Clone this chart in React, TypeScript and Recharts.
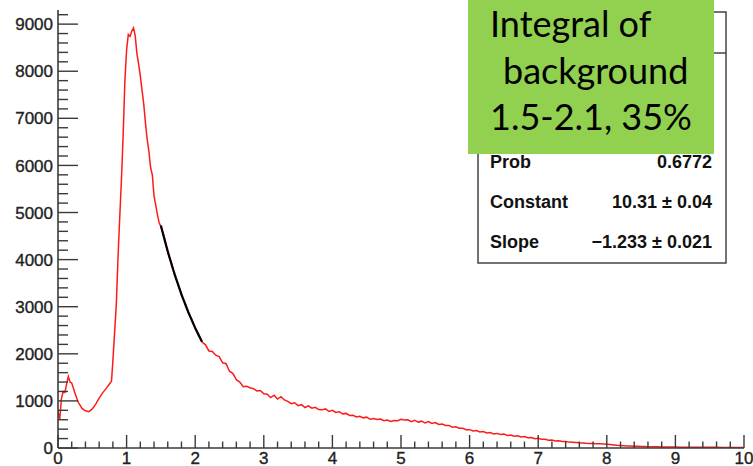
import React from "react";
import { LineChart, Line, XAxis, YAxis } from "recharts";

// Histogram bin centres and contents
const binCenters = [
  0.0, 0.025, 0.05, 0.075, 0.1, 0.125, 0.15, 0.175, 0.2, 0.225, 0.25, 0.275, 0.3, 0.35, 0.4, 0.45,
  0.5, 0.55, 0.6, 0.65, 0.7, 0.75, 0.78, 0.8, 0.825, 0.85, 0.875, 0.9, 0.925, 0.95, 0.975,
  1.0, 1.025, 1.05, 1.075, 1.1, 1.125, 1.15, 1.175, 1.2, 1.225, 1.25, 1.275, 1.3, 1.325, 1.35,
  1.375, 1.4, 1.425, 1.45, 1.475, 1.5, 1.55, 1.6, 1.65, 1.7, 1.75, 1.8, 1.85, 1.9, 1.95, 2.0,
  2.05, 2.1, 2.15, 2.2, 2.25, 2.3, 2.35, 2.4, 2.45, 2.5, 2.55, 2.6, 2.65, 2.7, 2.75, 2.8, 2.85,
  2.9, 2.95, 3.0, 3.05, 3.1, 3.15, 3.2, 3.25, 3.3, 3.35, 3.4, 3.45, 3.5, 3.55, 3.6, 3.65, 3.7,
  3.75, 3.8, 3.85, 3.9, 3.95, 4.0, 4.05, 4.1, 4.15, 4.2, 4.25, 4.3, 4.35, 4.4, 4.45, 4.5, 4.55,
  4.6, 4.65, 4.7, 4.75, 4.8, 4.85, 4.9, 4.95, 5.0, 5.05, 5.1, 5.15, 5.2, 5.25, 5.3, 5.35, 5.4,
  5.45, 5.5, 5.55, 5.6, 5.65, 5.7, 5.75, 5.8, 5.85, 5.9, 5.95, 6.0, 6.05, 6.1, 6.15, 6.2, 6.25,
  6.3, 6.35, 6.4, 6.45, 6.5, 6.55, 6.6, 6.65, 6.7, 6.75, 6.8, 6.85, 6.9, 6.95, 7.0, 7.05, 7.1,
  7.15, 7.2, 7.25, 7.3, 7.35, 7.4, 7.45, 7.5, 7.55, 7.6, 7.65, 7.7, 7.75, 7.8, 7.85, 7.9, 7.95,
  8.0, 8.05, 8.1, 8.15, 8.2, 8.25, 8.3, 8.35, 8.4, 8.45, 8.5, 8.55, 8.6, 8.65, 8.7, 8.75, 8.8,
  8.85, 8.9, 8.95, 9.0, 9.1, 9.2, 9.3, 9.4, 9.5, 9.6, 9.7, 9.8, 9.9, 10.0,
];

const counts = [
  780, 600, 1050, 1200, 1180, 1350, 1520, 1400, 1380, 1270, 1150, 1050, 960, 840, 790, 770,
  830, 930, 1060, 1170, 1260, 1360, 1420, 1850, 2450, 3050, 4050, 4900, 5700, 6650, 7800,
  8450, 8780, 8740, 8850, 8920, 8760, 8380, 8150, 7900, 7600, 7300, 6900, 6550, 6300, 5950,
  5800, 5350, 5150, 4950, 4780, 4700, 4480, 4150, 3950, 3660, 3500, 3240, 3090, 2860, 2740, 2530,
  2420, 2250, 2190, 2060, 2050, 1970, 1940, 1810, 1790, 1630, 1580, 1450, 1400, 1300, 1310, 1280, 1260,
  1210, 1220, 1150, 1140, 1070, 1120, 1040, 1090, 1020, 990, 940, 960, 900, 920, 860, 895, 845,
  865, 815, 810, 830, 775, 800, 755, 770, 725, 735, 690, 695, 660, 675, 640, 655, 610,
  625, 605, 615, 580, 595, 565, 585, 580, 610, 595, 600, 560, 590, 550, 570, 530, 560,
  520, 540, 500, 510, 480, 480, 440, 450, 420, 420, 390, 390, 360, 370, 340, 350, 320,
  330, 300, 310, 285, 295, 265, 275, 250, 258, 232, 242, 218, 222, 198, 205, 188, 186,
  165, 170, 150, 156, 140, 140, 125, 124, 118, 112, 108, 100, 98, 95, 90, 88, 85,
  80, 72, 65, 58, 55, 50, 45, 42, 38, 35, 32, 30, 28, 26, 25, 24, 22,
  22, 20, 20, 19, 18, 17, 16, 15, 15, 14, 13, 13, 12, 12,
];

// Exponential fit: exp(Constant + Slope * x) over the fit range
const fitConstant = 10.31;
const fitSlope = -1.233;
const fitRange = [1.5, 2.1];

// Statistics box
const statNames = ["Prob", "Constant", "Slope"];
const statValues = ["0.6772", "10.31 \u00b1 0.04", "\u22121.233 \u00b1 0.021"];

// Annotation
const noteLines = ["Integral of", "background", "1.5-2.1, 35%"];
const noteIndent = [490, 503, 490];

// Axis ticks
const xMajorTicks = [0, 1, 2, 3, 4, 5, 6, 7, 8, 9, 10];
const yMajorTicks = [0, 1000, 2000, 3000, 4000, 5000, 6000, 7000, 8000, 9000];
const xMinorStep = 0.2;
const yMinorStep = 200;
const yMax = 9300;

const xTicks: number[] = [];
for (let i = 0; i <= 50; i++) xTicks.push(Math.round(i * xMinorStep * 10) / 10);
const yTicks: number[] = [];
for (let v = 0; v <= 9200; v += yMinorStep) yTicks.push(v);

const histData = binCenters.map((x, i) => ({ x, y: counts[i] }));
const fitData: { x: number; y: number }[] = [];
for (let i = 0; i <= 30; i++) {
  const x = fitRange[0] + ((fitRange[1] - fitRange[0]) * i) / 30;
  fitData.push({ x, y: Math.exp(fitConstant + fitSlope * x) });
}

const AXIS = "#3a3a3a";
const FONT = "'Liberation Sans', Arial, Helvetica, sans-serif";

const XTick = (props: any) => {
  const { x, y, payload } = props;
  const v = payload.value as number;
  const major = xMajorTicks.some((m) => Math.abs(m - v) < 1e-6);
  return (
    <g>
      <line x1={x} x2={x} y1={y} y2={y - (major ? 13 : 6.5)} stroke={AXIS} strokeWidth={1.4} />
      {major && (
        <text
          x={x}
          y={y + 16}
          textAnchor="middle"
          fontSize={17}
          fontFamily={FONT}
          fill="#222"
          stroke="#222"
          strokeWidth={0.35}
        >
          {v}
        </text>
      )}
    </g>
  );
};

const YTick = (props: any) => {
  const { x, y, payload } = props;
  const v = payload.value as number;
  const major = yMajorTicks.includes(v);
  return (
    <g>
      <line x1={x} x2={x + (major ? 20 : 10)} y1={y} y2={y} stroke={AXIS} strokeWidth={1.4} />
      {major && (
        <text
          x={x - 5}
          y={y}
          dy="0.36em"
          textAnchor="end"
          fontSize={17}
          fontFamily={FONT}
          fill="#222"
          stroke="#222"
          strokeWidth={0.35}
        >
          {v}
        </text>
      )}
    </g>
  );
};

export default function App() {
  return (
    <div style={{ position: "absolute", left: 0, top: 0, width: 753, height: 466, background: "#fff" }}>
      <LineChart width={753} height={466} margin={{ top: 10, right: 9, bottom: 0, left: 0 }}>
        <XAxis
          dataKey="x"
          type="number"
          domain={[0, 10]}
          ticks={xTicks}
          interval={0}
          height={18}
          tickSize={0}
          tickMargin={0}
          tickLine={false}
          tick={<XTick />}
          axisLine={{ stroke: AXIS, strokeWidth: 1.6 }}
          allowDataOverflow
        />
        <XAxis
          xAxisId="top"
          orientation="top"
          type="number"
          domain={[0, 10]}
          height={0}
          tick={false}
          tickLine={false}
          axisLine={{ stroke: AXIS, strokeWidth: 1.6 }}
        />
        <YAxis
          type="number"
          domain={[0, yMax]}
          ticks={yTicks}
          interval={0}
          width={58}
          tickSize={0}
          tickMargin={0}
          tickLine={false}
          tick={<YTick />}
          axisLine={{ stroke: AXIS, strokeWidth: 1.6 }}
          allowDataOverflow
        />
        <YAxis
          yAxisId="right"
          orientation="right"
          type="number"
          domain={[0, yMax]}
          width={0}
          tick={false}
          tickLine={false}
          axisLine={{ stroke: AXIS, strokeWidth: 1.6 }}
        />
        <Line
          data={histData}
          dataKey="y"
          type="linear"
          stroke="#ff1a1a"
          strokeWidth={1.5}
          dot={false}
          isAnimationActive={false}
        />
        <Line
          data={fitData}
          dataKey="y"
          type="monotone"
          stroke="#000"
          strokeWidth={2.2}
          dot={false}
          isAnimationActive={false}
        />
      </LineChart>

      <svg width={753} height={466} style={{ position: "absolute", left: 0, top: 0, pointerEvents: "none" }}>
        {/* fit statistics box */}
        <rect x={478} y={12} width={248} height={251} fill="#fff" stroke="#444" strokeWidth={1.5} />
        <line x1={478} x2={726} y1={53} y2={53} stroke="#444" strokeWidth={1.5} />
        {statNames.map((name, i) => (
          <g key={name}>
            <text x={490} y={168 + i * 40} fontSize={18} fontWeight="bold" fontFamily={FONT} fill="#111">
              {name}
            </text>
            <text x={712} y={168 + i * 40} textAnchor="end" fontSize={18} fontWeight="bold" fontFamily={FONT} fill="#111">
              {statValues[i]}
            </text>
          </g>
        ))}
        {/* annotation */}
        <rect x={468} y={0} width={246} height={154} fill="#92d050" />
        {noteLines.map((line, i) => (
          <text
            key={i}
            x={noteIndent[i]}
            y={37 + i * 46.5}
            fontSize={36}
            fontFamily="Lato, 'Open Sans', sans-serif"
            fill="#000"
          >
            {line}
          </text>
        ))}
      </svg>
    </div>
  );
}
